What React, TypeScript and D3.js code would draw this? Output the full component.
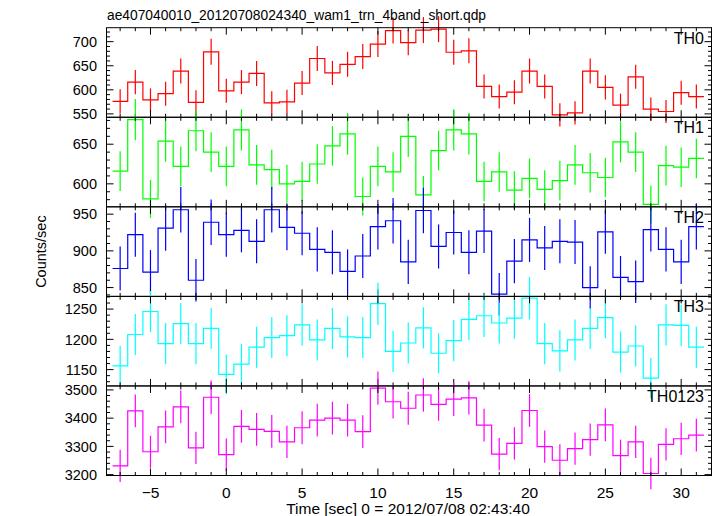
import React from "react";
import * as d3 from "d3";

const title = "ae407040010_20120708024340_wam1_trn_4band_short.qdp";
const xLabel = "Time [sec] 0 = 2012/07/08 02:43:40";
const yLabel = "Counts/sec";

const times = [-7, -6, -5, -4, -3, -2, -1, 0, 1, 2, 3, 4, 5, 6, 7, 8, 9, 10, 11, 12, 13, 14, 15, 16, 17, 18, 19, 20, 21, 22, 23, 24, 25, 26, 27, 28, 29, 30, 31];
const xTicks = [-5, 0, 5, 10, 15, 20, 25, 30];

const th0 = [576, 616, 579, 592, 639, 574, 679, 598, 616, 634, 573, 575, 614, 665, 635, 653, 669, 695, 723, 698, 724, 726, 678, 681, 607, 586, 595, 639, 607, 548, 552, 639, 605, 568, 627, 560, 555, 594, 586];
const th0Err = [25, 25, 24, 25, 26, 25, 27, 25, 25, 26, 24, 25, 25, 26, 25, 26, 26, 27, 27, 26, 27, 27, 26, 26, 25, 25, 25, 26, 25, 24, 24, 26, 25, 24, 25, 24, 24, 25, 25];
const th1 = [616, 681, 581, 654, 622, 667, 640, 622, 668, 624, 618, 600, 603, 625, 648, 663, 584, 622, 615, 660, 586, 642, 668, 663, 603, 615, 592, 607, 593, 604, 624, 614, 608, 653, 640, 574, 623, 621, 632];
const th1Err = [25, 26, 24, 26, 25, 26, 25, 25, 26, 25, 25, 24, 25, 25, 25, 26, 24, 25, 25, 26, 24, 25, 26, 26, 25, 25, 24, 25, 24, 25, 25, 25, 25, 26, 25, 24, 25, 25, 25];
const th2 = [876, 922, 871, 931, 956, 860, 939, 922, 928, 913, 956, 932, 924, 902, 898, 872, 893, 933, 941, 885, 955, 906, 925, 898, 927, 841, 886, 915, 904, 913, 912, 850, 926, 864, 858, 929, 902, 885, 933];
const th2Err = [30, 30, 30, 31, 31, 29, 31, 30, 30, 30, 31, 31, 30, 30, 30, 30, 30, 31, 31, 30, 31, 30, 30, 30, 30, 29, 30, 30, 30, 30, 30, 29, 30, 29, 29, 30, 30, 30, 31];
const th3 = [1156, 1208, 1246, 1193, 1226, 1193, 1218, 1142, 1159, 1187, 1203, 1206, 1224, 1199, 1218, 1204, 1203, 1259, 1180, 1194, 1219, 1177, 1198, 1233, 1239, 1227, 1235, 1268, 1193, 1181, 1199, 1218, 1236, 1179, 1189, 1136, 1224, 1223, 1187];
const th3Err = [33, 34, 34, 34, 34, 34, 34, 33, 33, 34, 34, 34, 34, 34, 34, 34, 34, 35, 34, 34, 34, 33, 34, 34, 35, 34, 34, 35, 34, 34, 34, 34, 34, 34, 34, 33, 34, 34, 34];
const th0123 = [3231, 3426, 3281, 3369, 3440, 3295, 3474, 3271, 3371, 3360, 3353, 3316, 3366, 3393, 3400, 3393, 3352, 3506, 3458, 3435, 3482, 3449, 3467, 3472, 3375, 3273, 3311, 3427, 3299, 3251, 3292, 3324, 3376, 3267, 3316, 3204, 3307, 3327, 3340];
const th0123Err = [57, 58, 57, 58, 58, 57, 59, 57, 58, 58, 58, 57, 58, 58, 58, 58, 58, 59, 59, 58, 59, 58, 59, 59, 58, 57, 57, 58, 57, 57, 57, 57, 58, 57, 57, 56, 57, 57, 58];

const panelNames = ["TH0", "TH1", "TH2", "TH3", "TH0123"];
const panelColors = ["#ff0000", "#00ff00", "#0000ff", "#00ffff", "#ff00ff"];
const panelDomains: [number, number][] = [[543, 729], [571, 684], [838, 960], [1123, 1271], [3197, 3514]];
const panelYTicks = [[550, 600, 650, 700], [600, 650], [850, 900, 950], [1150, 1200, 1250], [3200, 3300, 3400, 3500]];
const panelMinorStep = [10, 10, 10, 10, 20];
const panelValues = [th0, th1, th2, th3, th0123];
const panelErrors = [th0Err, th1Err, th2Err, th3Err, th0123Err];

const W = 717;
const H = 516;
const left = 106.5;
const right = 711.5;
const top = 27.7;
const bottom = 475.5;
const font = "'Liberation Sans', Arial, Helvetica, sans-serif";

export default function App() {
  const x = d3.scaleLinear().domain([-7.9, 32.0]).range([left, right]);
  const ph = (bottom - top) / panelNames.length;
  const minorX = d3.range(-7, 33, 1);

  const panels = panelNames.map((name, i) => {
    const y0 = top + i * ph;
    const y1 = y0 + ph;
    const y = d3.scaleLinear().domain(panelDomains[i]).range([y1, y0]);
    const vals = panelValues[i];
    const errs = panelErrors[i];
    const pts: [number, number][] = [];
    times.forEach((t, j) => {
      pts.push([x(t - 0.5), y(vals[j])]);
      pts.push([x(t + 0.5), y(vals[j])]);
    });
    const line = d3.line<[number, number]>().x((d) => d[0]).y((d) => d[1]);
    const [dmin, dmax] = panelDomains[i];
    const minorY = d3.range(Math.ceil(dmin / panelMinorStep[i]) * panelMinorStep[i], dmax, panelMinorStep[i]);
    const color = panelColors[i];
    return (
      <g key={name}>
        <path d={line(pts) || ""} fill="none" stroke={color} strokeWidth={1.2} />
        {times.map((t, j) => (
          <line key={j} x1={x(t)} x2={x(t)} y1={y(vals[j] - errs[j])} y2={y(vals[j] + errs[j])} stroke={color} strokeWidth={1.2} />
        ))}
        {minorX.map((t) => {
          const major = t % 5 === 0;
          const len = major ? 7 : 3.5;
          return (
            <g key={"xt" + t}>
              <line x1={x(t)} x2={x(t)} y1={y1} y2={y1 - len} stroke="#000" strokeWidth={1} />
              <line x1={x(t)} x2={x(t)} y1={y0} y2={y0 + len} stroke="#000" strokeWidth={1} />
            </g>
          );
        })}
        {minorY.map((v) => {
          const major = panelYTicks[i].includes(v);
          const len = major ? 7 : 3.5;
          return (
            <g key={"yt" + v}>
              <line x1={left} x2={left + len} y1={y(v)} y2={y(v)} stroke="#000" strokeWidth={1} />
              <line x1={right} x2={right - len} y1={y(v)} y2={y(v)} stroke="#000" strokeWidth={1} />
            </g>
          );
        })}
        {panelYTicks[i].map((v) => (
          <text key={"yl" + v} x={97} y={y(v)} dy="0.36em" textAnchor="end" fontSize={14.5} fontFamily={font} fill="#000">
            {v}
          </text>
        ))}
        <rect x={left} y={y0} width={right - left} height={ph} fill="none" stroke="#000" strokeWidth={1} />
        <text x={704} y={y0 + 16} textAnchor="end" fontSize={16} fontFamily={font} fill="#000">
          {name}
        </text>
      </g>
    );
  });

  return (
    <svg width={W} height={H} style={{ position: "absolute", left: 0, top: 0, background: "#fff" }}>
      <rect x={0} y={0} width={W} height={H} fill="#fff" />
      {panels}
      {xTicks.map((t) => (
        <text key={t} x={x(t)} y={498} textAnchor="middle" fontSize={15.5} fontFamily={font} fill="#000">
          {t < 0 ? "\u2212" + Math.abs(t) : String(t)}
        </text>
      ))}
      <text x={408} y={514} textAnchor="middle" fontSize={15.5} fontFamily={font} fill="#000">
        {xLabel}
      </text>
      <text transform={`translate(46,${(top + bottom) / 2}) rotate(-90)`} textAnchor="middle" fontSize={14.5} fontFamily={font} fill="#000">
        {yLabel}
      </text>
      <text x={107} y={20} fontSize={13.8} fontFamily={font} fill="#000">
        {title}
      </text>
    </svg>
  );
}
